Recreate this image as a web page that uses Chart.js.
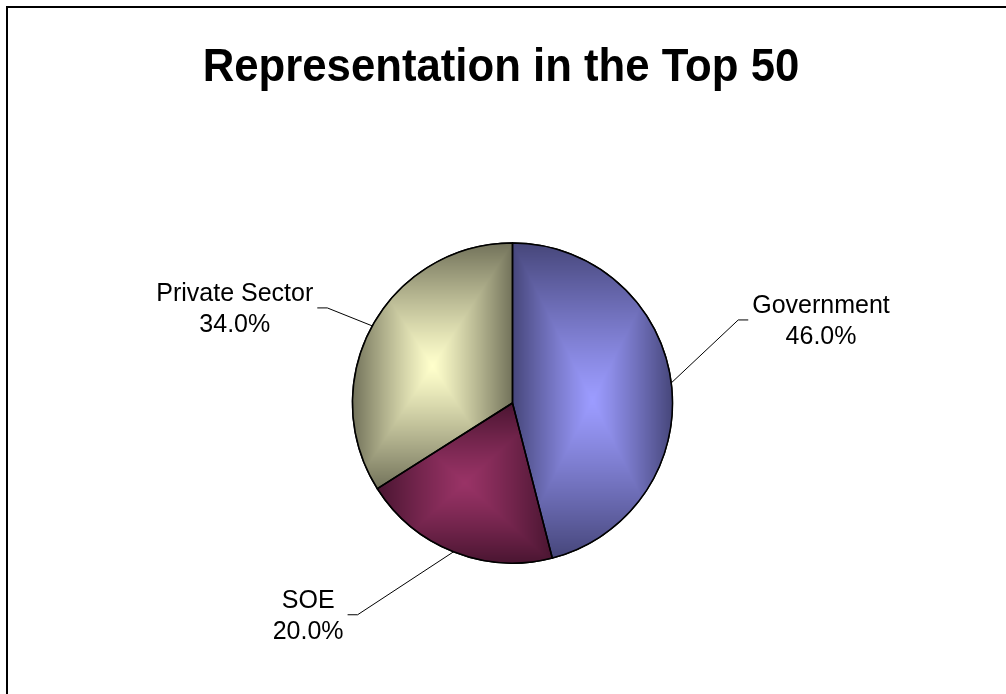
<!DOCTYPE html>
<html>
<head>
<meta charset="utf-8">
<script src="https://cdn.jsdelivr.net/npm/chart.js@4.4.0/dist/chart.umd.min.js"></script>
<style>
  html, body { margin: 0; padding: 0; background: #fff; overflow: hidden; }
  #wrap { position: relative; width: 1006px; height: 694px; }
</style>
</head>
<body>
<div id="wrap"><canvas id="pieChart"></canvas></div>
<script>
const chartTitle = 'Representation in the Top 50';
const categories = ['Government', 'SOE', 'Private Sector'];
const counts = [23, 10, 17]; // companies out of the top 50
const lightColors = [[156, 156, 255], [153, 51, 102], [255, 255, 204]];
const darkColors = [[70, 70, 122], [74, 21, 49], [114, 114, 90]];
// where each leader line bends, relative to the point on the slice edge
const leaderBends = [[67, -63], [-96, 63], [-45, -18]];

const total = counts.reduce((a, b) => a + b, 0);
const percentLabels = counts.map(v => (v / total * 100).toFixed(1) + '%');
const labelFont = '25px "Liberation Sans", Arial, sans-serif';
const rgb = c => 'rgb(' + c.join(',') + ')';

function arcProps(arc) {
  return arc.getProps(['x', 'y', 'startAngle', 'endAngle', 'outerRadius'], true);
}

function slicePath(ctx, p) {
  ctx.beginPath();
  ctx.moveTo(p.x, p.y);
  ctx.arc(p.x, p.y, p.outerRadius, p.startAngle, p.endAngle);
  ctx.closePath();
}

// bounding box of a slice (centre, both ends and any axis extremes it passes)
function sliceBounds(p) {
  const r = p.outerRadius;
  const pts = [[p.x, p.y],
    [p.x + r * Math.cos(p.startAngle), p.y + r * Math.sin(p.startAngle)],
    [p.x + r * Math.cos(p.endAngle), p.y + r * Math.sin(p.endAngle)]];
  for (let k = -4; k <= 8; k++) {
    const a = k * Math.PI / 2;
    if (a > p.startAngle && a < p.endAngle) pts.push([p.x + r * Math.cos(a), p.y + r * Math.sin(a)]);
  }
  const xs = pts.map(q => q[0]), ys = pts.map(q => q[1]);
  return { x0: Math.min(...xs), x1: Math.max(...xs), y0: Math.min(...ys), y1: Math.max(...ys) };
}

// Excel style "from centre" shading: light in the middle of the box, dark at its sides
function shadeBox(ctx, b, light, dark) {
  const x0 = Math.floor(b.x0) - 2, y0 = Math.floor(b.y0) - 2;
  const w = Math.ceil(b.x1) + 2 - x0, h = Math.ceil(b.y1) + 2 - y0;
  const cx = (b.x0 + b.x1) / 2, cy = (b.y0 + b.y1) / 2;
  const hw = (b.x1 - b.x0) / 2, hh = (b.y1 - b.y0) / 2;
  const img = ctx.createImageData(w, h);
  for (let j = 0; j < h; j++) {
    for (let i = 0; i < w; i++) {
      const dx = Math.abs(x0 + i + 0.5 - cx) / hw;
      const dy = Math.abs(y0 + j + 0.5 - cy) / hh;
      let t = Math.min(1, Math.max(dx, dy));
      t = Math.pow(t, 1.15);
      const k = (j * w + i) * 4;
      img.data[k] = light[0] + (dark[0] - light[0]) * t;
      img.data[k + 1] = light[1] + (dark[1] - light[1]) * t;
      img.data[k + 2] = light[2] + (dark[2] - light[2]) * t;
      img.data[k + 3] = 255;
    }
  }
  const off = document.createElement('canvas');
  off.width = w;
  off.height = h;
  off.getContext('2d').putImageData(img, 0, 0);
  ctx.drawImage(off, x0, y0);
}

const framePlugin = {
  id: 'frame',
  beforeDraw(chart) {
    const ctx = chart.ctx;
    ctx.save();
    ctx.fillStyle = '#fff';
    ctx.fillRect(0, 0, chart.width, chart.height);
    ctx.strokeStyle = '#000';
    ctx.lineWidth = 2;
    ctx.strokeRect(7, 7, chart.width + 50, chart.height + 50);
    // title
    ctx.fillStyle = '#000';
    ctx.font = 'bold 46px "Liberation Sans", Arial, sans-serif';
    ctx.textAlign = 'center';
    ctx.textBaseline = 'alphabetic';
    ctx.translate(501, 81);
    ctx.scale(0.95, 1);
    ctx.fillText(chartTitle, 0, 0);
    ctx.restore();
  }
};

const shadingPlugin = {
  id: 'shading',
  afterDatasetsDraw(chart) {
    const ctx = chart.ctx;
    const arcs = chart.getDatasetMeta(0).data;
    arcs.forEach((arc, i) => {
      const p = arcProps(arc);
      ctx.save();
      slicePath(ctx, p);
      ctx.clip();
      shadeBox(ctx, sliceBounds(p), lightColors[i], darkColors[i]);
      ctx.restore();
    });
    arcs.forEach(arc => {
      const p = arcProps(arc);
      ctx.save();
      slicePath(ctx, p);
      ctx.lineWidth = 1.5;
      ctx.lineJoin = 'round';
      ctx.strokeStyle = '#000';
      ctx.stroke();
      ctx.restore();
    });
  }
};

const labelPlugin = {
  id: 'leaderLabels',
  afterDraw(chart) {
    const ctx = chart.ctx;
    chart.getDatasetMeta(0).data.forEach((arc, i) => {
      const p = arcProps(arc);
      const mid = (p.startAngle + p.endAngle) / 2;
      const ex = p.x + p.outerRadius * Math.cos(mid);
      const ey = p.y + p.outerRadius * Math.sin(mid);
      const bx = ex + leaderBends[i][0];
      const by = ey + leaderBends[i][1];
      const dir = leaderBends[i][0] > 0 ? 1 : -1;
      const endX = bx + dir * 10;

      ctx.save();
      ctx.strokeStyle = '#000';
      ctx.lineWidth = 1;
      ctx.beginPath();
      ctx.moveTo(ex, ey);
      ctx.lineTo(bx, by);
      ctx.lineTo(endX, by);
      ctx.stroke();

      const lines = [categories[i], percentLabels[i]];
      ctx.font = labelFont;
      ctx.fillStyle = '#000';
      ctx.textAlign = 'center';
      ctx.textBaseline = 'alphabetic';
      const w = Math.max(...lines.map(t => ctx.measureText(t).width));
      const cx = dir > 0 ? endX + 4 + w / 2 : endX - 4 - w / 2;
      ctx.fillText(lines[0], cx, by - 7);
      ctx.fillText(lines[1], cx, by + 24);
      ctx.restore();
    });
  }
};

const ctx = document.getElementById('pieChart').getContext('2d');
const pieChart = new Chart(ctx, {
  type: 'pie',
  data: {
    labels: categories,
    datasets: [{
      data: counts,
      backgroundColor: lightColors.map(rgb),
      borderColor: '#000',
      borderWidth: 1.5,
      radius: 160
    }]
  },
  options: {
    responsive: true,
    maintainAspectRatio: false,
    animation: false,
    layout: { padding: { left: 39, right: 20, top: 232, bottom: 120 } },
    plugins: {
      legend: { display: false },
      title: { display: false },
      tooltip: { enabled: false }
    }
  },
  plugins: [framePlugin, shadingPlugin, labelPlugin]
});
</script>
</body>
</html>
